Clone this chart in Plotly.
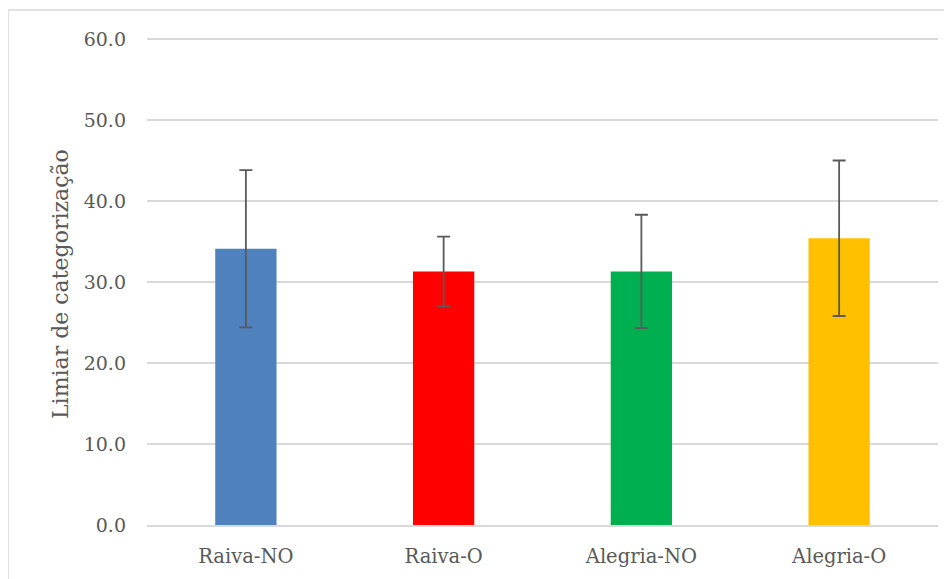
import plotly.graph_objects as go

categories = ["Raiva-NO", "Raiva-O", "Alegria-NO", "Alegria-O"]
values = [34.1, 31.3, 31.3, 35.4]
errors = [9.7, 4.3, 7.0, 9.6]
colors = ["#4f81bd", "#ff0000", "#00b050", "#ffc000"]
y_ticks = [0, 10, 20, 30, 40, 50, 60]
y_title = "Limiar de categorização"

# page has an 8px body margin; work in reference pixels minus 8
OFF = 8
W, H = 952 - OFF, 579 - OFF
PX_PER_UNIT = 486 / 60
L, R, T, B = 147 - OFF, 14, 39 - OFF - 2, 54
pw, ph = W - L - R, H - T - B
y_top = ph / PX_PER_UNIT

FONT = "DejaVu Serif"

fig = go.Figure(go.Bar(
    x=categories, y=values, width=0.31,
    marker=dict(color=colors, line=dict(width=0)),
    error_y=dict(type="data", array=errors, visible=True,
                 color="#5a5a5a", thickness=1.8, width=6.5),
))

def px_x(p):
    return (p - OFF - L) / pw

def px_y(p):
    return 1 - (p - OFF - T) / ph

fig.update_layout(
    width=W, height=H,
    margin=dict(l=L, r=R, t=T, b=B),
    paper_bgcolor="white", plot_bgcolor="white",
    showlegend=False,
    font=dict(family=FONT, color="#595959", size=19),
    xaxis=dict(type="category", range=[-0.5, 3.5], showgrid=False,
               showline=True, linecolor="#d9d9d9", linewidth=1.5,
               ticks="", ticklabelstandoff=13,
               tickfont=dict(family=FONT, size=19.5, color="#595959")),
    yaxis=dict(range=[0, y_top], tickvals=y_ticks,
               ticktext=[f"{v:.1f}" for v in y_ticks],
               showgrid=True, gridcolor="#d9d9d9", gridwidth=1.5,
               zeroline=False, showline=False, ticks="",
               ticklabelstandoff=20,
               tickfont=dict(family=FONT, size=19, color="#595959")),
    shapes=[dict(type="rect", xref="paper", yref="paper",
                 x0=px_x(8), x1=px_x(1000), y0=px_y(700), y1=px_y(10),
                 line=dict(color="#d9d9d9", width=1.5), fillcolor="rgba(0,0,0,0)",
                 layer="below")],
    annotations=[dict(text=y_title, xref="paper", yref="paper",
                      x=px_x(60), y=px_y(284), showarrow=False, textangle=-90,
                      xanchor="center", yanchor="middle",
                      font=dict(family=FONT, size=22, color="#595959"))],
)

fig.write_html("out.html")
